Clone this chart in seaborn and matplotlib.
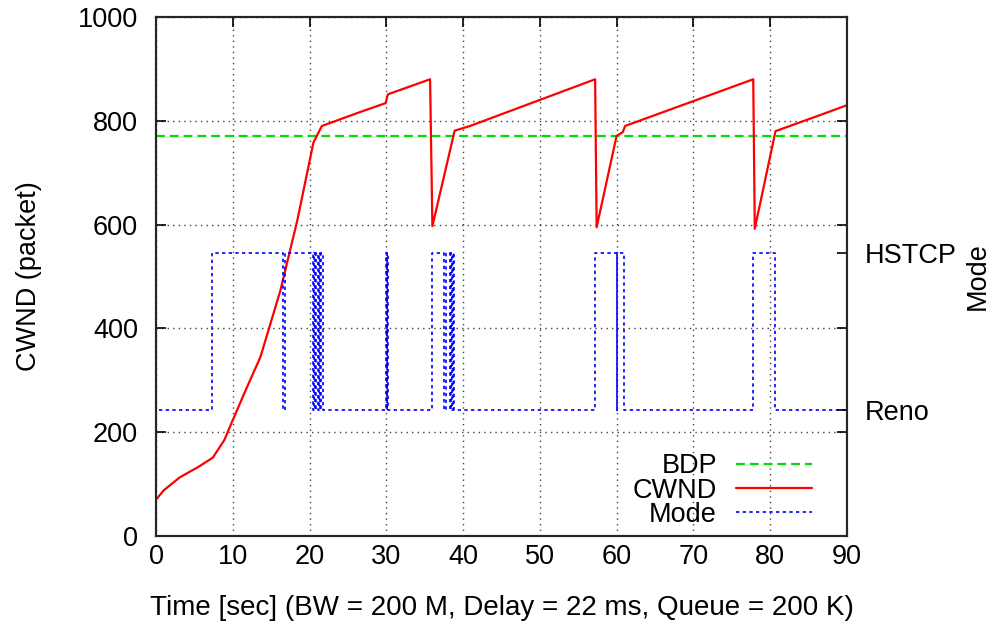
import matplotlib
matplotlib.use("Agg")
import matplotlib.pyplot as plt
import seaborn as sns
import numpy as np
import pandas as pd

# ---- data ----
cwnd_t = [0.0, 1.0, 3.1, 5.5, 7.4, 8.9, 9.9, 11.5, 13.6, 16.2, 18.4, 20.5, 21.6,
          26.6, 29.9, 30.2, 35.7, 36.0, 38.9, 40.9, 57.2, 57.4, 60.0, 60.8, 61.1,
          77.8, 78.0, 80.7, 86.5, 90.0]
cwnd_v = [70, 88, 113, 133, 151, 185, 220, 275, 345, 473, 608, 758, 790,
          817, 834, 851, 880, 597, 781, 790, 880, 595, 771, 778, 790,
          880, 592, 780, 811, 830]

bdp_value = 770

mode_t = [0.0, 0.05, 7.3, 16.6, 16.75,
          20.5, 20.6, 20.75, 20.9, 21.05, 21.2, 21.35, 21.5, 21.7,
          29.95, 30.05, 30.1, 30.2,
          35.9, 37.5, 37.8, 38.3, 38.4, 38.55, 38.65, 38.8,
          57.2, 60.0, 60.1, 61.0,
          77.8, 80.6, 90.0]
mode_state = [1, 0, 1, 0, 1,
              0, 1, 0, 1, 0, 1, 0, 1, 0,
              1, 0, 1, 0,
              1, 0, 1, 0, 1, 0, 1, 0,
              1, 0, 1, 0,
              1, 0, 0]
mode_levels = {"Reno": 243, "HSTCP": 545}

x_ticks = list(range(0, 91, 10))
y_ticks = list(range(0, 1001, 200))

# ---- figure ----
sns.set_style("white")
plt.rcParams["font.family"] = ["Liberation Sans", "DejaVu Sans"]
plt.rcParams["text.color"] = "black"
plt.rcParams["axes.labelcolor"] = "black"
plt.rcParams["xtick.color"] = "black"
plt.rcParams["ytick.color"] = "black"

FS = 19.5

fig = plt.figure(figsize=(9.94, 6.23), dpi=100)
ax = fig.add_axes([0.157, 0.1397, 0.695, 0.833])

mode_y = [mode_levels["HSTCP"] if s else mode_levels["Reno"] for s in mode_state]
df_cwnd = pd.DataFrame({"t": cwnd_t, "v": cwnd_v})
df_bdp = pd.DataFrame({"t": [0, 90], "v": [bdp_value, bdp_value]})
df_mode = pd.DataFrame({"t": mode_t, "v": mode_y})

sns.lineplot(data=df_bdp, x="t", y="v", ax=ax, color="#00dd00", lw=1.6,
             linestyle=(0, (4, 2.2)), estimator=None, sort=False, label="BDP")
sns.lineplot(data=df_cwnd, x="t", y="v", ax=ax, color="#ff0000", lw=1.6,
             estimator=None, sort=False, label="CWND")
sns.lineplot(data=df_mode, x="t", y="v", ax=ax, color="#0000ff", lw=1.2,
             linestyle=(0, (2, 2)), drawstyle="steps-post",
             estimator=None, sort=False, label="Mode")

ax.set_xlim(0, 90)
ax.set_ylim(0, 1000)
ax.set_xticks(x_ticks)
ax.set_yticks(y_ticks)
ax.grid(True, color="#444444", linestyle=(0, (1, 3)), linewidth=1.0)
ax.tick_params(direction="in", length=7, width=1.2, labelsize=FS,
               top=True, right=False)
ax.tick_params(axis="y", pad=13)
ax.tick_params(axis="x", pad=6)
for sp in ax.spines.values():
    sp.set_linewidth(1.5)
    sp.set_color("black")

ax.set_xlabel("Time [sec] (BW = 200 M, Delay = 22 ms, Queue = 200 K)",
              fontsize=20, labelpad=18)
ax.set_ylabel("CWND (packet)", fontsize=FS, labelpad=26)

# right axis: mirror ticks + mode labels
ax2 = ax.twinx()
ax2.set_ylim(0, 1000)
ax2.set_yticks(y_ticks, minor=True)
ax2.set_yticks([mode_levels["Reno"], mode_levels["HSTCP"]])
ax2.set_yticklabels(["Reno", "HSTCP"])
ax2.tick_params(which="both", direction="in", length=7, width=1.2,
                labelsize=FS, pad=13)
ax2.set_ylabel("Mode", fontsize=FS, labelpad=6)
for sp in ax2.spines.values():
    sp.set_linewidth(1.5)

leg = ax.legend(loc="lower right", bbox_to_anchor=(0.949, 0.016),
                frameon=False, fontsize=FS, markerfirst=False,
                handlelength=2.8, labelspacing=-0.07, handletextpad=0.7,
                borderpad=0, borderaxespad=0)
for t in leg.get_texts():
    t.set_ha("right")

fig.savefig("out.png", dpi=100)
